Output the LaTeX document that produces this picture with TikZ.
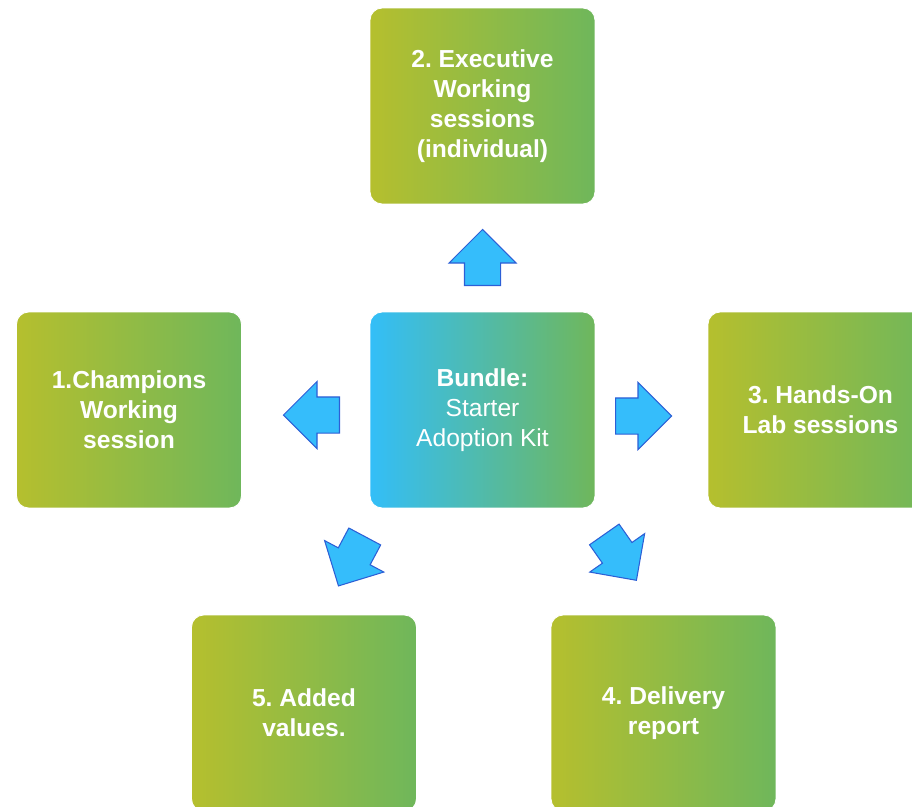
\documentclass[tikz,border=0pt]{standalone}
\usepackage{fontspec}
\setmainfont{Liberation Sans}
\usetikzlibrary{shapes.arrows}
\definecolor{boxleft}{HTML}{B5BF2E}
\definecolor{boxright}{HTML}{6FB75B}
\definecolor{bundleleft}{HTML}{33BEF8}
\definecolor{arrowfill}{HTML}{35BDFB}
\definecolor{arrowline}{HTML}{2C5FD6}
\begin{document}
\begin{tikzpicture}[x=0.02cm,y=-0.02cm,
  box/.style={rounded corners=0.24cm,minimum width=4.5cm,minimum height=3.92cm,left color=boxleft,right color=boxright,draw=white,line width=0.5pt,text=white,align=center,font=\fontsize{14}{17}\selectfont\bfseries\frenchspacing},
  bundle/.style={box,left color=bundleleft,font=\fontsize{14}{17}\selectfont},
  arrowbox/.style={single arrow,fill=arrowfill,draw=arrowline,line width=0.6pt,minimum height=1.12cm,inner xsep=0pt,inner ysep=0.35cm,single arrow head extend=0.31cm,anchor=tail}]
\useasboundingbox (0,0) rectangle (912,806);
\clip (0,0) rectangle (912,806);
\node[bundle] (bundle) at (482.5,410) {\textbf{Bundle:}\\Starter\\Adoption Kit};
\node[box] (champions) at (129,410) {1.Champions\\Working\\session};
\node[box] (executive) at (482.5,106) {2. Executive\\Working\\sessions\\(individual)};
\node[box] (handson) at (820.5,410) {3. Hands-On\\Lab sessions};
\node[box] (delivery) at (663.5,713) {4. Delivery\\report};
\node[box] (added) at (304,713) {5. Added\\values.};
% block arrows round the bundle
\node[arrowbox,rotate=90] (up) at (482.5,286) {};
\node[arrowbox,rotate=180] (left) at (340,415) {};
\node[arrowbox] (right) at (615,416) {};
\node[arrowbox,rotate=-118] (downleft) at (365,536) {};
\node[arrowbox,rotate=-55] (downright) at (604,534) {};
\end{tikzpicture}
\end{document}
